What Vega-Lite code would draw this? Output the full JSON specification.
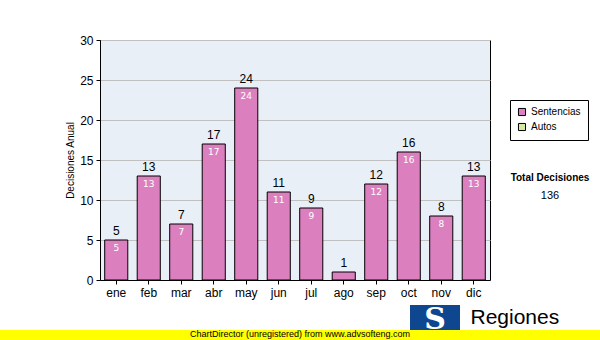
{
  "$schema": "https://vega.github.io/schema/vega-lite/v6.json",
  "width": 390,
  "height": 240,
  "autosize": {"type": "none"},
  "padding": {"left": 100, "top": 40, "right": 110, "bottom": 60},
  "background": "white",
  "title": {
    "text": "Total Decisiones",
    "subtitle": "136",
    "anchor": "start",
    "frame": "group",
    "orient": "top",
    "align": "center",
    "dx": 450,
    "dy": 171,
    "font": "Liberation Sans",
    "fontSize": 10,
    "fontWeight": "bold",
    "color": "black",
    "subtitleFont": "Liberation Sans",
    "subtitleFontSize": 11,
    "subtitleColor": "black",
    "subtitlePadding": 7
  },
  "data": {
    "values": [
      {"mes": "ene", "valor": 5, "serie": "Sentencias"},
      {"mes": "feb", "valor": 13, "serie": "Sentencias"},
      {"mes": "mar", "valor": 7, "serie": "Sentencias"},
      {"mes": "abr", "valor": 17, "serie": "Sentencias"},
      {"mes": "may", "valor": 24, "serie": "Sentencias"},
      {"mes": "jun", "valor": 11, "serie": "Sentencias"},
      {"mes": "jul", "valor": 9, "serie": "Sentencias"},
      {"mes": "ago", "valor": 1, "serie": "Sentencias"},
      {"mes": "sep", "valor": 12, "serie": "Sentencias"},
      {"mes": "oct", "valor": 16, "serie": "Sentencias"},
      {"mes": "nov", "valor": 8, "serie": "Sentencias"},
      {"mes": "dic", "valor": 13, "serie": "Sentencias"}
    ]
  },
  "config": {
    "view": {"stroke": "black", "strokeWidth": 1, "fill": "#e9eff6"}
  },
  "encoding": {
    "x": {
      "field": "mes",
      "type": "nominal",
      "sort": null,
      "scale": {"paddingInner": 0.29, "paddingOuter": 0.145},
      "axis": {
        "title": "Regiones",
        "titleX": 370,
        "titleY": 43,
        "titleAlign": "left",
        "titleBaseline": "alphabetic",
        "titleFont": "Liberation Sans",
        "titleFontSize": 21,
        "titleFontWeight": "normal",
        "titleColor": "black",
        "labelAngle": 0,
        "labelFont": "Liberation Sans",
        "labelFontSize": 12,
        "labelColor": "black",
        "labelPadding": 3,
        "tickSize": 4,
        "tickColor": "black",
        "domainColor": "black",
        "grid": false
      }
    },
    "y": {
      "field": "valor",
      "type": "quantitative",
      "scale": {"domain": [0, 30], "nice": false},
      "axis": {
        "values": [0, 5, 10, 15, 20, 25, 30],
        "title": "Decisiones Anual",
        "titleFont": "Liberation Sans",
        "titleFontSize": 10,
        "titleFontWeight": "normal",
        "titleColor": "black",
        "titlePadding": 4,
        "labelFont": "Liberation Sans",
        "labelFontSize": 12,
        "labelColor": "black",
        "labelPadding": 3,
        "tickSize": 4,
        "tickColor": "black",
        "domainColor": "black",
        "grid": true,
        "gridColor": "#c0c0c0"
      }
    }
  },
  "layer": [
    {
      "mark": {"type": "bar", "stroke": "black", "strokeWidth": 1},
      "encoding": {
        "color": {
          "field": "serie",
          "type": "nominal",
          "scale": {"domain": ["Sentencias", "Autos"], "range": ["#dc7fbf", "#d4e8a0"]},
          "legend": {
            "orient": "none",
            "legendX": 410,
            "legendY": 60,
            "title": null,
            "fillColor": "white",
            "strokeColor": "black",
            "padding": 7,
            "symbolType": "square",
            "symbolSize": 50,
            "symbolStrokeColor": "black",
            "symbolStrokeWidth": 1,
            "labelFont": "Liberation Sans",
            "labelFontSize": 10,
            "labelColor": "black",
            "labelLimit": 200,
            "rowPadding": 3,
            "labelOffset": 4
          }
        }
      }
    },
    {
      "mark": {"type": "text", "baseline": "bottom", "dy": -2, "font": "Liberation Sans", "fontSize": 12, "color": "black"},
      "encoding": {"text": {"field": "valor", "type": "quantitative"}}
    },
    {
      "transform": [{"filter": "datum.valor >= 2"}],
      "mark": {"type": "text", "baseline": "middle", "dy": 8, "font": "DejaVu Sans", "fontSize": 9, "color": "white"},
      "encoding": {"text": {"field": "valor", "type": "quantitative"}}
    },
    {
      "mark": {"type": "point", "size": 0, "filled": true, "opacity": 1},
      "encoding": {
        "fill": {
          "field": "valor",
          "type": "quantitative",
          "scale": {"range": ["#ffff00", "#ffff00"]},
          "legend": {
            "orient": "none",
            "legendX": -100,
            "legendY": 290,
            "direction": "horizontal",
            "gradientLength": 600,
            "gradientThickness": 10,
            "gradientStrokeWidth": 0,
            "labelExpr": "''",
            "labelOpacity": 0,
            "padding": 0,
            "title": "ChartDirector (unregistered) from www.advsofteng.com",
            "titleAnchor": "middle",
            "titleFont": "Liberation Sans",
            "titleFontSize": 9,
            "titleFontWeight": "normal",
            "titleColor": "black",
            "titleLimit": 600,
            "titleBaseline": "top",
            "titlePadding": -9
          }
        },
        "stroke": {
          "field": "valor",
          "type": "quantitative",
          "scale": {"domain": [0, 30], "range": ["#0f4690", "#0f4690"]},
          "legend": {
            "orient": "none",
            "legendX": 310,
            "legendY": 265,
            "direction": "horizontal",
            "gradientLength": 50,
            "gradientThickness": 25,
            "gradientStrokeWidth": 0,
            "labelExpr": "''",
            "labelOpacity": 0,
            "padding": 0,
            "title": "S",
            "titleAnchor": "middle",
            "titleFont": "DejaVu Serif",
            "titleFontSize": 30,
            "titleFontWeight": "bold",
            "titleColor": "white",
            "titleBaseline": "top",
            "titlePadding": -30
          }
        }
      }
    }
  ]
}
